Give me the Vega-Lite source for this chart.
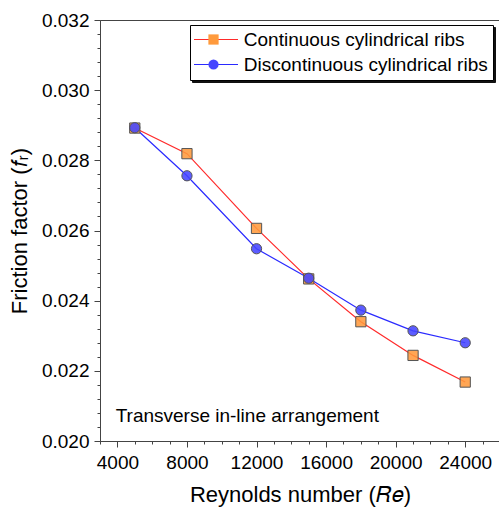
{
  "$schema": "https://vega.github.io/schema/vega-lite/v6.json",
  "width": 400,
  "height": 421,
  "autosize": "none",
  "padding": {"left": 100, "top": 20, "right": 0, "bottom": 68},
  "config": {
    "view": {"stroke": "#444", "strokeWidth": 1},
    "font": "Liberation Sans"
  },
  "datasets": {
    "pts": [
      {"Re": 5000, "f": 0.02892, "series": "Continuous cylindrical ribs"},
      {"Re": 8000, "f": 0.02819, "series": "Continuous cylindrical ribs"},
      {"Re": 12000, "f": 0.02606, "series": "Continuous cylindrical ribs"},
      {"Re": 15000, "f": 0.02462, "series": "Continuous cylindrical ribs"},
      {"Re": 18000, "f": 0.02340, "series": "Continuous cylindrical ribs"},
      {"Re": 21000, "f": 0.02244, "series": "Continuous cylindrical ribs"},
      {"Re": 24000, "f": 0.02168, "series": "Continuous cylindrical ribs"},
      {"Re": 5000, "f": 0.02893, "series": "Discontinuous cylindrical ribs"},
      {"Re": 8000, "f": 0.02756, "series": "Discontinuous cylindrical ribs"},
      {"Re": 12000, "f": 0.02548, "series": "Discontinuous cylindrical ribs"},
      {"Re": 15000, "f": 0.02464, "series": "Discontinuous cylindrical ribs"},
      {"Re": 18000, "f": 0.02373, "series": "Discontinuous cylindrical ribs"},
      {"Re": 21000, "f": 0.02314, "series": "Discontinuous cylindrical ribs"},
      {"Re": 24000, "f": 0.02280, "series": "Discontinuous cylindrical ribs"}
    ],
    "note": [
      {"Re": 3900, "f": 0.0207, "label": "Transverse in-line arrangement"}
    ]
  },
  "resolve": {"axis": {"x": "independent", "y": "independent"}},
  "layer": [
    {
      "data": {"name": "pts"},
      "transform": [{"filter": "datum.Re > 0"}],
      "mark": {"type": "point", "filled": true, "opacity": 0},
      "encoding": {
        "x": {"field": "Re", "type": "quantitative", "axis": null},
        "y": {"field": "f", "type": "quantitative", "axis": null},
        "size": {
          "field": "series", "type": "ordinal",
          "scale": {"range": [256, 256]},
          "legend": {
            "orient": "none", "legendX": 92, "legendY": 7, "title": null,
            "symbolType": "M-2.75,0H2.75", "symbolStrokeWidth": 1.2, "symbolOffset": 11.5, "symbolOpacity": 0,
            "labelFont": "Liberation Sans", "labelFontSize": 19, "labelColor": "transparent", "labelLimit": 400,
            "labelOffset": 18.3, "strokeColor": "#111", "fillColor": "#111", "padding": 5, "rowPadding": 5
          }
        }
      }
    },
    {
      "data": {"name": "pts"},
      "mark": {"type": "line", "strokeWidth": 1.2},
      "encoding": {
        "x": {
          "field": "Re", "type": "quantitative",
          "scale": {"domain": [3000, 26000], "nice": false, "zero": false},
          "axis": {
            "orient": "bottom", "values": [3000,4000,5000,6000,7000,8000,9000,10000,11000,12000,13000,14000,15000,16000,17000,18000,19000,20000,21000,22000,23000,24000,25000,26000],
            "tickSize": 3, "labels": false, "domain": false, "grid": false, "title": null, "tickColor": "#444"
          }
        },
        "y": {
          "field": "f", "type": "quantitative",
          "scale": {"domain": [0.020, 0.032], "nice": false, "zero": false},
          "axis": {
            "orient": "left", "values": [0.0204,0.0208,0.0212,0.0216,0.0224,0.0228,0.0232,0.0236,0.0244,0.0248,0.0252,0.0256,0.0264,0.0268,0.0272,0.0276,0.0284,0.0288,0.0292,0.0296,0.0304,0.0308,0.0312,0.0316],
            "tickSize": 3, "labels": false, "domain": false, "grid": false, "title": null, "tickColor": "#444"
          }
        },
        "stroke": {
          "field": "series", "type": "nominal",
          "scale": {"domain": ["Continuous cylindrical ribs", "Discontinuous cylindrical ribs"], "range": ["#ff2a2a", "#2a2aff"]},
          "legend": {
            "orient": "none", "legendX": 90, "legendY": 5, "title": null,
            "symbolType": "M-2.75,0H2.75", "symbolSize": 256, "symbolStrokeWidth": 1.2, "symbolOffset": 11.5,
            "labelFont": "Liberation Sans", "labelFontSize": 19, "labelColor": "#000", "labelLimit": 400,
            "labelOffset": 18.3, "strokeColor": "#000", "fillColor": "#fff", "padding": 5, "rowPadding": 5
          }
        }
      }
    },
    {
      "data": {"name": "pts"},
      "mark": {"type": "point", "filled": true, "size": 105, "stroke": "#555", "strokeWidth": 1, "opacity": 1, "fillOpacity": 0.88},
      "encoding": {
        "x": {
          "field": "Re", "type": "quantitative",
          "axis": {
            "orient": "bottom", "values": [4000, 8000, 12000, 16000, 20000, 24000], "format": "d",
            "tickSize": 6, "tickColor": "#444", "domainColor": "#444", "grid": false,
            "labelFont": "Liberation Sans", "labelFontSize": 19, "labelColor": "#000", "labelPadding": 6,
            "title": "Reynolds number (𝑅𝑒)", "titleFont": "Liberation Sans", "titleFontSize": 22, "titleFontWeight": "normal", "titleColor": "#000", "titlePadding": 12
          }
        },
        "y": {
          "field": "f", "type": "quantitative",
          "axis": {
            "orient": "left", "values": [0.020, 0.022, 0.024, 0.026, 0.028, 0.030, 0.032], "format": ".3f",
            "tickSize": 6, "tickColor": "#444", "domainColor": "#444", "grid": false,
            "labelFont": "Liberation Sans", "labelFontSize": 19, "labelColor": "#000", "labelPadding": 5,
            "title": "Friction factor (𝑓ᵣ)", "titleFont": "Liberation Sans", "titleFontSize": 22, "titleFontWeight": "normal", "titleColor": "#000", "titlePadding": 10
          }
        },
        "fill": {
          "field": "series", "type": "nominal",
          "scale": {"range": ["#ff9a3c", "#4646ff"]},
          "legend": {
            "orient": "none", "legendX": 99, "legendY": 5, "title": null,
            "symbolSize": 105, "symbolStrokeColor": "#555", "symbolStrokeWidth": 1, "symbolOpacity": 0.88,
            "labelFont": "Liberation Sans", "labelFontSize": 19, "labelColor": "transparent", "labelLimit": 400,
            "labelOffset": 4, "padding": 5, "rowPadding": 5
          }
        },
        "shape": {
          "field": "series", "type": "nominal",
          "scale": {"range": ["square", "circle"]},
          "legend": {
            "orient": "none", "legendX": 99, "legendY": 5, "title": null,
            "symbolSize": 105, "symbolStrokeColor": "#555", "symbolStrokeWidth": 1,
            "labelFont": "Liberation Sans", "labelFontSize": 19, "labelColor": "transparent", "labelLimit": 400,
            "labelOffset": 4, "padding": 5, "rowPadding": 5
          }
        }
      }
    },
    {
      "data": {"name": "note"},
      "mark": {"type": "text", "align": "left", "baseline": "middle", "font": "Liberation Sans", "fontSize": 19, "color": "#000"},
      "encoding": {
        "x": {"field": "Re", "type": "quantitative", "axis": null},
        "y": {"field": "f", "type": "quantitative", "axis": null},
        "text": {"field": "label"}
      }
    }
  ]
}
